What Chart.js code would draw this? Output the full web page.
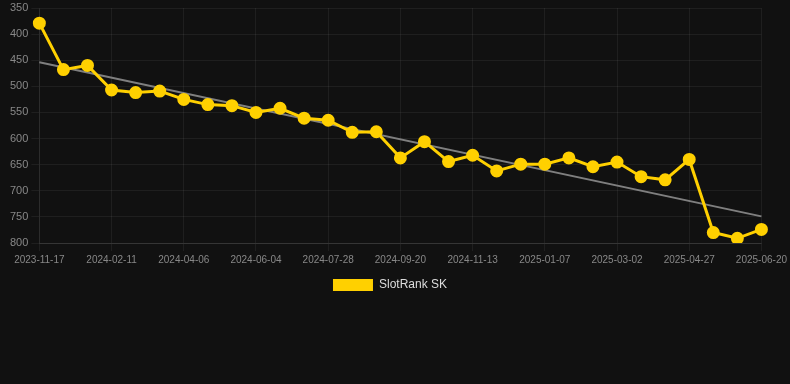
<!DOCTYPE html>
<html>
<head>
<meta charset="utf-8">
<script src="https://cdn.jsdelivr.net/npm/chart.js@4"></script>
<style>
html,body{margin:0;padding:0;background:#111111;}
#wrap{position:relative;width:790px;height:301px;}
</style>
</head>
<body>
<div id="wrap"><canvas id="c"></canvas></div>
<script>
const labels = [
  "2023-11-17","2023-12-16","2024-01-14","2024-02-11","2024-02-29","2024-03-18",
  "2024-04-06","2024-04-25","2024-05-15","2024-06-04","2024-06-22","2024-07-10",
  "2024-07-28","2024-08-15","2024-09-02","2024-09-20","2024-10-08","2024-10-26",
  "2024-11-13","2024-12-01","2024-12-19","2025-01-07","2025-01-25","2025-02-12",
  "2025-03-02","2025-03-21","2025-04-08","2025-04-27","2025-05-15","2025-06-02",
  "2025-06-20"
];
const rankValues = [
  379, 468, 460, 507, 512, 509,
  525, 535, 537, 550, 542, 561,
  565, 588, 587, 637, 606, 644,
  632, 662, 649, 649, 637, 654,
  645, 673, 679, 640, 780, 791,
  774
];
const trendValues = [454].concat(new Array(29).fill(null), [749]);
const seriesName = "SlotRank SK";
const yTicks = [350, 400, 450, 500, 550, 600, 650, 700, 750, 800];

new Chart(document.getElementById('c'), {
  type: 'line',
  data: {
    labels: labels,
    datasets: [
      {
        label: seriesName,
        data: rankValues,
        borderColor: '#FFD000',
        backgroundColor: '#FFD000',
        borderWidth: 3,
        pointRadius: 5,
        pointHoverRadius: 5,
        pointBackgroundColor: '#FFD000',
        pointBorderColor: '#FFD000',
        tension: 0,
        order: 1
      },
      {
        label: 'trend',
        data: trendValues,
        borderColor: 'rgba(140,140,140,0.9)',
        borderWidth: 2,
        pointRadius: 0,
        spanGaps: true,
        fill: false,
        order: 2
      }
    ]
  },
  options: {
    responsive: true,
    maintainAspectRatio: false,
    animation: false,
    layout: {padding: {left: 7, right: 17, top: 0, bottom: 0}},
    plugins: {
      legend: {
        position: 'bottom',
        labels: {
          color: '#dddddd',
          font: {size: 12, family: 'Liberation Sans, Arial, sans-serif'},
          boxWidth: 40,
          boxHeight: 12,
          generateLabels: (chart) => [{
            text: seriesName,
            fillStyle: '#FFD000',
            strokeStyle: '#FFD000',
            fontColor: '#dddddd',
            lineWidth: 0,
            hidden: false,
            datasetIndex: 0
          }]
        }
      },
      tooltip: {enabled: false}
    },
    scales: {
      x: {
        offset: false,
        grid: {color: 'rgba(255,255,255,0.06)', tickLength: 8},
        border: {color: 'rgba(255,255,255,0.1)'},
        ticks: {
          color: '#888888',
          font: {size: 10, family: 'Liberation Sans, Arial, sans-serif'},
          autoSkip: false,
          maxRotation: 0,
          minRotation: 0,
          callback: function(v, i) { return i % 3 === 0 ? this.getLabelForValue(v) : null; }
        }
      },
      y: {
        reverse: true,
        min: yTicks[0],
        max: yTicks[yTicks.length - 1],
        afterBuildTicks: (axis) => { axis.ticks = yTicks.map(v => ({value: v})); },
        grid: {color: 'rgba(255,255,255,0.06)', tickLength: 8},
        border: {color: 'rgba(255,255,255,0.06)'},
        ticks: {
          color: '#888888',
          font: {size: 11, lineHeight: 0.55, family: 'Liberation Sans, Arial, sans-serif'}
        }
      }
    }
  }
});
</script>
</body>
</html>
